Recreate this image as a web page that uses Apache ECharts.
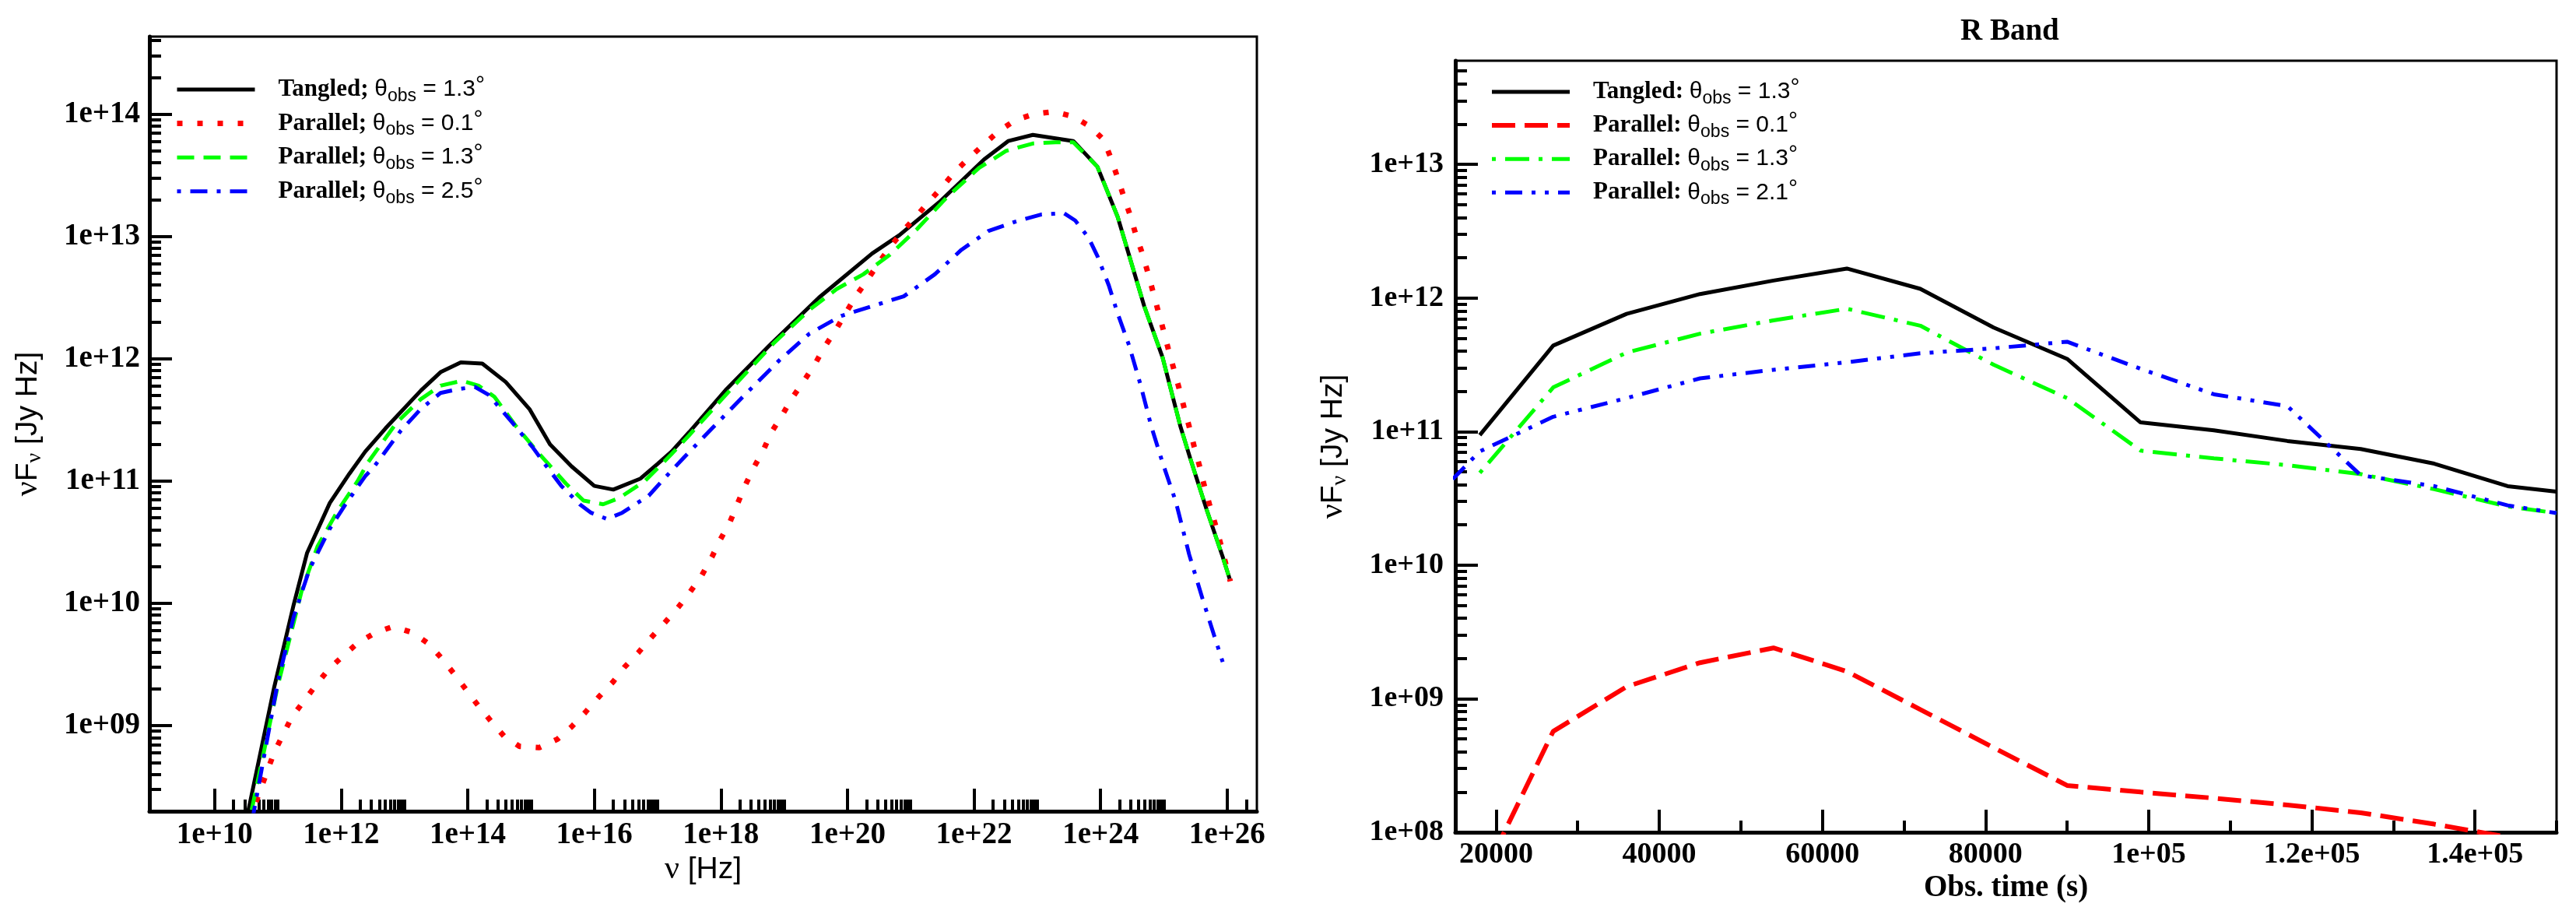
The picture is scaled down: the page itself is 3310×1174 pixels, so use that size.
<!DOCTYPE html>
<html>
<head>
<meta charset="utf-8">
<script src="https://cdn.jsdelivr.net/npm/echarts@6/dist/echarts.min.js"></script>
<style>
  html, body { margin: 0; padding: 0; background: #fff; }
  #chart { width: 3310px; height: 1174px; }
</style>
</head>
<body>
<div id="chart"></div>
<script>
// ---- SED panel (left): [log10 nu, log10 nuFnu] ----
const tangledSed = [[10.45,8.10],[10.94,9.31],[11.25,9.99],[11.46,10.41],[11.82,10.82],[12.13,11.06],[12.38,11.24],[12.70,11.43],[13.26,11.74],[13.57,11.89],[13.89,11.97],[14.23,11.96],[14.60,11.81],[14.98,11.585],[15.30,11.30],[15.64,11.12],[16.0,10.96],[16.3,10.93],[16.73,11.02],[17.0,11.14],[17.22,11.24],[17.50,11.40],[18.07,11.74],[18.77,12.11],[19.55,12.50],[20.39,12.86],[20.82,13.01],[21.45,13.28],[22.16,13.63],[22.54,13.78],[22.93,13.83],[23.57,13.78],[23.95,13.57],[24.27,13.16],[24.69,12.43],[24.98,12.01],[25.26,11.45],[25.42,11.18],[25.68,10.76],[25.93,10.38],[26.04,10.20]]
const parallel01Sed = [[10.55,8.22],[10.72,8.47],[10.94,8.78],[11.22,9.07],[11.41,9.20],[11.60,9.33],[11.80,9.46],[12.03,9.57],[12.26,9.675],[12.54,9.76],[12.82,9.81],[13.13,9.76],[13.38,9.67],[13.59,9.55],[13.79,9.42],[13.98,9.29],[14.17,9.16],[14.37,9.035],[14.58,8.91],[14.82,8.83],[15.13,8.82],[15.42,8.89],[15.64,8.99],[15.86,9.11],[16.08,9.24],[16.30,9.36],[16.48,9.48],[16.70,9.60],[16.90,9.72],[17.11,9.84],[17.33,9.97],[17.51,10.09],[17.70,10.23],[17.86,10.38],[17.99,10.52],[18.14,10.66],[18.26,10.81],[18.38,10.96],[18.52,11.11],[18.66,11.24],[18.80,11.40],[18.97,11.54],[19.12,11.675],[19.30,11.81],[19.48,11.95],[19.63,12.09],[19.81,12.23],[20.13,12.51],[20.31,12.64],[20.49,12.78],[20.67,12.91],[20.87,13.04],[21.08,13.16],[21.28,13.28],[21.49,13.40],[21.70,13.53],[21.92,13.64],[22.15,13.75],[22.39,13.86],[22.65,13.95],[22.94,14.0],[23.26,14.02],[23.57,13.98],[23.83,13.90],[24.05,13.79],[24.17,13.63],[24.27,13.48],[24.37,13.32],[24.47,13.17],[24.56,13.01],[24.66,12.86],[24.75,12.70],[24.83,12.545],[24.91,12.39],[24.99,12.24],[25.07,12.08],[25.16,11.91],[25.24,11.76],[25.32,11.60],[25.40,11.445],[25.48,11.28],[25.56,11.13],[25.63,10.98],[25.72,10.81],[25.81,10.65],[25.89,10.50],[26.05,10.18]]
const parallel13Sed = [[10.50,8.10],[11.0,9.33],[11.38,10.11],[11.63,10.47],[11.95,10.76],[12.26,11.0],[12.42,11.15],[12.88,11.48],[13.26,11.67],[13.57,11.78],[13.91,11.82],[14.17,11.78],[14.42,11.69],[14.76,11.45],[15.10,11.24],[15.55,10.98],[15.83,10.84],[16.14,10.81],[16.39,10.86],[16.80,11.0],[17.22,11.22],[17.50,11.375],[18.14,11.74],[18.84,12.13],[19.40,12.40],[19.83,12.57],[20.25,12.69],[20.67,12.85],[21.10,13.06],[21.59,13.33],[22.08,13.56],[22.51,13.70],[22.93,13.76],[23.29,13.77],[23.57,13.77],[23.95,13.57],[24.27,13.16],[24.69,12.43],[24.98,12.01],[25.26,11.45],[25.42,11.18],[25.68,10.76],[25.93,10.38],[26.04,10.20]]
const parallel25Sed = [[10.55,8.10],[11.0,9.36],[11.25,9.89],[11.50,10.28],[11.82,10.61],[12.07,10.81],[12.38,11.04],[12.51,11.11],[12.94,11.41],[13.26,11.59],[13.57,11.72],[13.83,11.75],[14.11,11.77],[14.33,11.705],[14.70,11.48],[15.02,11.28],[15.23,11.13],[15.48,10.96],[15.77,10.81],[15.95,10.74],[16.20,10.69],[16.44,10.74],[16.86,10.88],[17.14,11.04],[17.43,11.20],[17.86,11.43],[18.35,11.69],[18.92,11.985],[19.40,12.205],[19.90,12.35],[20.39,12.43],[20.89,12.51],[21.38,12.69],[21.80,12.89],[22.23,13.045],[22.65,13.12],[23.07,13.18],[23.42,13.19],[23.60,13.13],[23.81,12.99],[23.95,12.84],[24.13,12.60],[24.27,12.37],[24.45,12.11],[24.63,11.79],[24.80,11.45],[24.98,11.15],[25.19,10.83],[25.40,10.40],[25.61,10.04],[25.79,9.745],[25.93,9.52]]

// ---- R band light curve (right): obs. time [s] and nuFnu [Jy Hz] ----
const rbTime = [9000, 18000, 27000, 36000, 45000, 54000, 63000, 72000, 81000, 90000, 99000, 108000, 117000, 126000, 135000, 144000, 150000]
const rbTangled = [null, 9.4e10, 4.4e11, 7.6e11, 1.07e12, 1.35e12, 1.66e12, 1.17e12, 6.0e11, 3.5e11, 1.17e11, 1.02e11, 8.5e10, 7.4e10, 5.75e10, 3.9e10, 3.55e10]
const rbParallel01 = [null, 4.2e7, 5.7e8, 1.23e9, 1.86e9, 2.4e9, 1.6e9, 8.3e8, 4.3e8, 2.24e8, 2.0e8, 1.8e8, 1.6e8, 1.4e8, 1.15e8, 9.2e7, null]
const rbParallel13 = [null, 4.9e10, 2.14e11, 3.9e11, 5.4e11, 6.8e11, 8.3e11, 6.2e11, 3.16e11, 1.78e11, 7.2e10, 6.3e10, 5.6e10, 4.8e10, 3.7e10, 2.75e10, 2.45e10]
const rbParallel21 = [1.95e10, 7.1e10, 1.29e11, 1.78e11, 2.5e11, 2.9e11, 3.3e11, 3.85e11, 4.2e11, 4.7e11, 2.95e11, 1.9e11, 1.55e11, 4.7e10, 3.9e10, 2.8e10, 2.45e10]

// ---- ticks ----
const sedNuTicks = [10, 12, 14, 16, 18, 20, 22, 24, 26]
const sedFluxTicks = [9, 10, 11, 12, 13, 14]
const sedFluxDecades = [8, 9, 10, 11, 12, 13, 14]
const rbFluxTicks = [8, 9, 10, 11, 12, 13]
const timeTicks = [20000, 40000, 60000, 80000, 100000, 120000, 140000]
const timeTickLabels = ['20000', '40000', '60000', '80000', '1e+05', '1.2e+05', '1.4e+05']
const timeMinorTicks = [30000, 50000, 70000, 90000, 110000, 130000, 150000]

const minorMult = [2, 3, 4, 5, 6, 7, 8, 9]
// tecplot puts the minor ticks only in the first decade of each 2-decade step
const sedNuMinor = sedNuTicks.flatMap(n => minorMult.concat([10]).map(k => n + Math.log10(k)))
const sedFluxMinor = sedFluxDecades.flatMap(n => minorMult.map(k => n + Math.log10(k)))
const rbFluxMinor = rbFluxTicks.flatMap(n => minorMult.map(k => n + Math.log10(k)))

const serif = 'Liberation Serif'
const sans = 'Liberation Sans'

function logLabel(v) {
    const n = Math.round(v)
    return '1e+' + (n < 10 ? '0' + n : n)
}

const tickFont = { color: '#000', fontFamily: serif, fontWeight: 'bold', fontSize: 39 }
const nameRich = {
    v: { fontFamily: serif, fontSize: 42, lineHeight: 46, color: '#000' },
    n: { fontFamily: sans, fontSize: 39, lineHeight: 46, color: '#000' },
    s: { fontFamily: serif, fontSize: 28, lineHeight: 12, verticalAlign: 'bottom', color: '#000' }
}

function majorAxis(grid, min, max, pos, ticks, fmt, margin, fontSize) {
    return {
        gridIndex: grid, type: 'value', min: min, max: max, position: pos,
        axisLine: { show: true, onZero: false, lineStyle: { color: '#000', width: 5 } },
        axisTick: { show: true, inside: true, length: 29, customValues: ticks, lineStyle: { color: '#000', width: 4 } },
        axisLabel: Object.assign({}, tickFont, { customValues: ticks, formatter: fmt, margin: margin, fontSize: fontSize }),
        splitLine: { show: false },
        nameMoveOverlap: false
    }
}

function minorAxis(grid, min, max, pos, ticks) {
    return {
        gridIndex: grid, type: 'value', min: min, max: max, position: pos,
        axisLine: { show: false, onZero: false },
        axisTick: { show: true, inside: true, length: 15, customValues: ticks, lineStyle: { color: '#000', width: 4 } },
        axisLabel: { show: false },
        splitLine: { show: false }
    }
}

const sedX = majorAxis(0, 8.97, 26.47, 'bottom', sedNuTicks, logLabel, 11, 39)
sedX.name = '{v|ν}{n| [Hz]}'
sedX.nameLocation = 'middle'
sedX.nameGap = 52
sedX.nameTextStyle = { rich: nameRich }

const sedY = majorAxis(0, 8.30, 14.634, 'left', sedFluxTicks, logLabel, 12, 39)
sedY.name = '{v|ν}{n|F}{s|ν}{n| [Jy Hz]}'
sedY.nameLocation = 'middle'
sedY.nameRotate = 90
sedY.nameGap = 133
sedY.nameTextStyle = { rich: nameRich }

const rbX = majorAxis(1, 15000, 150000, 'bottom', timeTicks, v => timeTickLabels[timeTicks.indexOf(v)] || '', 10, 38)
rbX.name = 'Obs. time (s)'
rbX.nameLocation = 'middle'
rbX.nameGap = 52
rbX.nameTextStyle = { color: '#000', fontFamily: serif, fontWeight: 'bold', fontSize: 39 }

const rbY = majorAxis(1, 8, 13.776, 'left', rbFluxTicks, logLabel, 15, 38)
rbY.name = '{v|ν}{n|F}{s|ν}{n| [Jy Hz]}'
rbY.nameLocation = 'middle'
rbY.nameRotate = 90
rbY.nameGap = 134
rbY.nameTextStyle = { rich: nameRich }

const sedNames = ['Tangled; θobs = 1.3°', 'Parallel; θobs = 0.1°', 'Parallel; θobs = 1.3°', 'Parallel; θobs = 2.5°']
const rbNames = ['Tangled: θobs = 1.3°', 'Parallel: θobs = 0.1°', 'Parallel: θobs = 1.3°', 'Parallel: θobs = 2.1°']

function legendText(name) {
    const m = name.match(/^(.*) θobs = (.*)°$/)
    return '{b|' + m[1] + ' }{t|θ}{s|obs}{n| = ' + m[2] + '}{d|°}'
}

const legendRich = {
    b: { fontFamily: serif, fontWeight: 'bold', fontSize: 31, lineHeight: 40, color: '#000', padding: [0, 0, 0, 25] },
    t: { fontFamily: sans, fontSize: 30, lineHeight: 40, color: '#000' },
    s: { fontFamily: sans, fontSize: 23, lineHeight: 12, verticalAlign: 'bottom', color: '#000' },
    n: { fontFamily: sans, fontSize: 30, lineHeight: 40, color: '#000' },
    d: { fontFamily: sans, fontSize: 30, lineHeight: 26, verticalAlign: 'top', color: '#000' }
}

function legend(names, left, top, gap) {
    return {
        data: names, orient: 'vertical', left: left, top: top, padding: 0,
        itemWidth: 100, itemHeight: 14, itemGap: gap, selectedMode: false,
        formatter: legendText,
        itemStyle: { color: 'rgba(0,0,0,0)', borderWidth: 0, opacity: 0 },
        lineStyle: { width: 'inherit', type: 'inherit' },
        textStyle: { rich: legendRich }
    }
}

function sedLine(name, data, color, width, type) {
    return {
        type: 'line', name: name, xAxisIndex: 0, yAxisIndex: 0, data: data,
        symbol: 'none', clip: true,
        lineStyle: { color: color, width: width, type: type, cap: 'butt' },
        itemStyle: { color: color }
    }
}

function rbLine(name, values, color, width, type) {
    const data = rbTime.map((t, i) => [t, values[i]]).filter(p => p[1] != null).map(p => [p[0], Math.log10(p[1])])
    return {
        type: 'line', name: name, xAxisIndex: 2, yAxisIndex: 2, data: data,
        symbol: 'none', clip: true,
        lineStyle: { color: color, width: width, type: type, cap: 'butt' },
        itemStyle: { color: color }
    }
}

const chart = echarts.init(document.getElementById('chart'))
chart.setOption({
    animation: false,
    backgroundColor: '#fff',
    title: {
        text: 'R Band', left: 2514, top: 16,
        textStyle: { color: '#000', fontFamily: serif, fontWeight: 'bold', fontSize: 39 }
    },
    grid: [
        { left: 192, top: 47, width: 1423, height: 995, show: true, borderColor: '#000', borderWidth: 3, backgroundColor: 'transparent', containLabel: false, outerBoundsMode: 'none' },
        { left: 1870, top: 78, width: 1415, height: 991, show: true, borderColor: '#000', borderWidth: 3, backgroundColor: 'transparent', containLabel: false, outerBoundsMode: 'none' }
    ],
    xAxis: [
        sedX,
        minorAxis(0, 8.97, 26.47, 'bottom', sedNuMinor),
        rbX,
        minorAxis(1, 15000, 150000, 'bottom', timeMinorTicks)
    ],
    yAxis: [
        sedY,
        minorAxis(0, 8.30, 14.634, 'left', sedFluxMinor),
        rbY,
        minorAxis(1, 8, 13.776, 'left', rbFluxMinor)
    ],
    legend: [
        legend(sedNames, 224, 95, 3.6),
        legend(rbNames, 1914, 98, 3.1)
    ],
    series: [
        sedLine(sedNames[0], tangledSed, '#000000', 5, 'solid'),
        sedLine(sedNames[1], parallel01Sed, '#ff0000', 7, [7, 19]),
        sedLine(sedNames[2], parallel13Sed, '#00ff00', 5, [22, 12]),
        sedLine(sedNames[3], parallel25Sed, '#0000ff', 5, [5, 12, 22, 12]),
        rbLine(rbNames[0], rbTangled, '#000000', 5, 'solid'),
        rbLine(rbNames[1], rbParallel01, '#ff0000', 6, [30, 12]),
        rbLine(rbNames[2], rbParallel13, '#00ff00', 5, [5, 12, 31, 12]),
        rbLine(rbNames[3], rbParallel21, '#0000ff', 5, [5, 12, 22, 12, 5, 12])
    ]
})
</script>
</body>
</html>
